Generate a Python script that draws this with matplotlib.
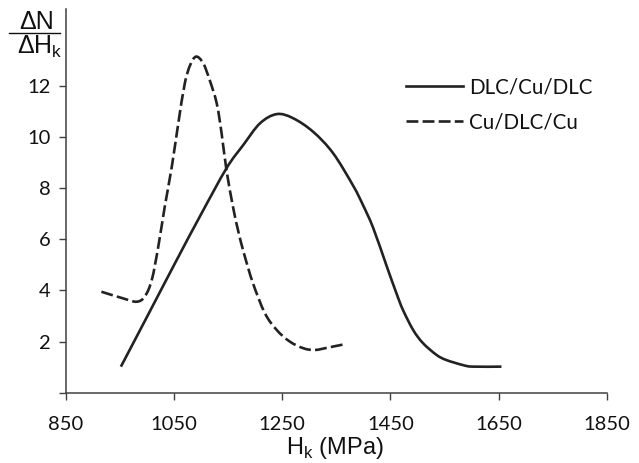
import matplotlib
matplotlib.use("Agg")
import numpy as np
import matplotlib.pyplot as plt
from matplotlib.path import Path
from matplotlib.patches import PathPatch
from matplotlib.lines import Line2D

# Hardness distribution curves (Knoop hardness vs. normalised count)
dlc_cu_dlc_h = [952, 1000, 1055, 1098, 1147, 1178, 1209, 1240, 1270, 1307, 1344,
                1381, 1399, 1418, 1443, 1461, 1473, 1492, 1510, 1535, 1553,
                1584, 1602, 1655]
dlc_cu_dlc_n = [1.02, 2.96, 5.19, 6.90, 8.78, 9.69, 10.54, 10.90, 10.74, 10.21,
                9.37, 8.10, 7.35, 6.45, 4.95, 3.89, 3.24, 2.45, 1.94, 1.48,
                1.28, 1.08, 1.02, 1.02]

cu_dlc_cu_h = [916, 956, 981, 996, 1009, 1021, 1033, 1046, 1058, 1070, 1080,
               1091, 1104, 1116, 1129, 1138, 1147, 1159, 1169, 1180, 1196,
               1218, 1240, 1264, 1289, 1310, 1338, 1366]
cu_dlc_cu_n = [3.95, 3.69, 3.56, 3.76, 4.41, 5.71, 7.28, 8.84, 10.54, 12.10,
               12.82, 13.15, 12.89, 12.23, 11.32, 10.15, 8.71, 7.28, 6.30, 5.40,
               4.28, 3.11, 2.45, 2.00, 1.74, 1.67, 1.78, 1.90]

series_labels = ["DLC/Cu/DLC", "Cu/DLC/Cu"]
x_ticks = [850, 1050, 1250, 1450, 1650, 1850]
y_ticks = [0, 2, 4, 6, 8, 10, 12]
y_tick_labels = ["", "2", "4", "6", "8", "10", "12"]


def smoothed_path(xs, ys):
    """Smooth line through the points (Catmull-Rom style cubic Bezier segments)."""
    pts = np.column_stack([xs, ys]).astype(float)
    n = len(pts)
    verts = [pts[0]]
    codes = [Path.MOVETO]
    for i in range(n - 1):
        p0 = pts[i - 1] if i > 0 else pts[i]
        p1 = pts[i]
        p2 = pts[i + 1]
        p3 = pts[i + 2] if i + 2 < n else pts[i + 1]
        verts += [p1 + (p2 - p0) / 6.0, p2 - (p3 - p1) / 6.0, p2]
        codes += [Path.CURVE4] * 3
    return Path(verts, codes)


W, H = 639, 463
fig = plt.figure(figsize=(W / 100, H / 100), dpi=100)
ax = fig.add_axes([65.7 / W, 1 - 392.7 / H, (607 - 65.7) / W, 383.4 / H])

line_color = "#222222"
axis_color = "#404040"
tick_font = "Lato"
lw = 1.9
dash = (0, (4.5, 1.6))

ax.add_patch(PathPatch(smoothed_path(dlc_cu_dlc_h, dlc_cu_dlc_n), fill=False,
                       edgecolor=line_color, lw=lw, joinstyle="round",
                       capstyle="butt"))
ax.add_patch(PathPatch(smoothed_path(cu_dlc_cu_h, cu_dlc_cu_n), fill=False,
                       edgecolor=line_color, lw=lw, linestyle=dash,
                       joinstyle="round", capstyle="butt"))

ax.set_xlim(850, 1850)
ax.set_ylim(0, 15)
ax.set_xticks(x_ticks)
ax.set_xticklabels([str(v) for v in x_ticks], fontfamily=tick_font, fontsize=14.5)
ax.set_yticks(y_ticks)
ax.set_yticklabels(y_tick_labels, fontfamily=tick_font, fontsize=14.5)

for side in ("top", "right"):
    ax.spines[side].set_visible(False)
for side in ("left", "bottom"):
    ax.spines[side].set_color(axis_color)
    ax.spines[side].set_linewidth(1.1)
ax.tick_params(axis="both", direction="out", length=5, width=1.0,
               color=axis_color, labelcolor="#111111")
ax.tick_params(axis="x", pad=12)
ax.tick_params(axis="y", pad=6)

# x-axis title with subscript
fig.text(335 / W, 1 - 448 / H, r"H$_\mathregular{k}$ (MPa)", ha="center", va="center",
         fontsize=17, fontfamily="Liberation Sans", color="#111111")

# y-axis title as a stacked fraction in the upper left corner
fig.text(37 / W, 1 - 22 / H, "ΔN", ha="center", va="center",
         fontsize=18, fontfamily="Liberation Sans", color="#111111")
fig.add_artist(Line2D([9 / W, 60 / W], [1 - 33 / H, 1 - 33 / H],
                      color="#111111", lw=1.0, transform=fig.transFigure))
fig.text(40 / W, 1 - 47 / H, r"ΔH$_\mathregular{k}$", ha="center", va="center",
         fontsize=18, fontfamily="Liberation Sans", color="#111111")

handles = [Line2D([], [], color=line_color, lw=lw),
           Line2D([], [], color=line_color, lw=lw, linestyle=dash)]
leg = ax.legend(handles, series_labels, loc="upper left",
                bbox_to_anchor=(406 / W, 1 - 77 / H),
                bbox_transform=fig.transFigure, frameon=False,
                prop={"family": tick_font, "size": 14.8},
                handlelength=2.77, handletextpad=0.3, labelspacing=0.73,
                borderpad=0, borderaxespad=0)
for t in leg.get_texts():
    t.set_color("#111111")

fig.savefig("out.png", dpi=100)
